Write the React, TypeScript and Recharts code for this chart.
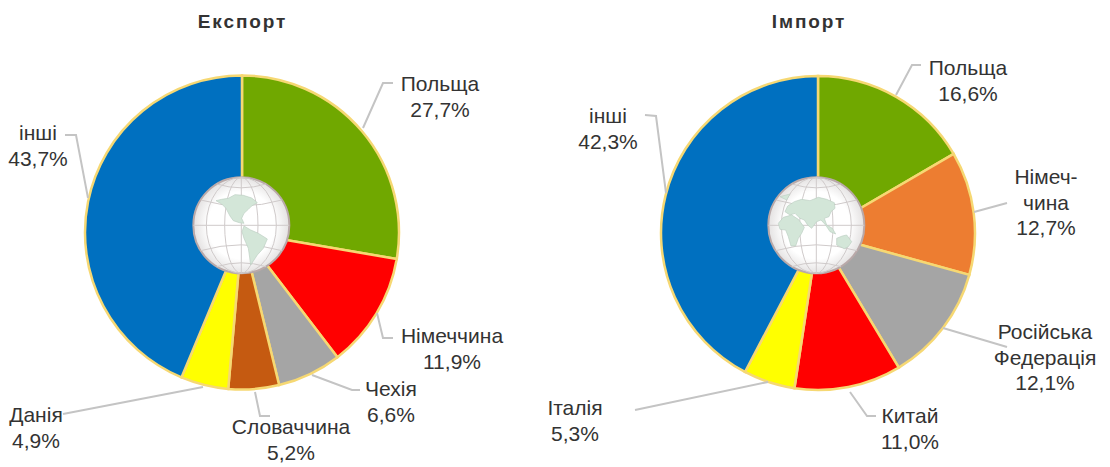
import React from 'react';
import { PieChart, Pie, Cell } from 'recharts';

const exportNames = ['Польща', 'Німеччина', 'Чехія', 'Словаччина', 'Данія', 'інші'];
const exportValues = [27.7, 11.9, 6.6, 5.2, 4.9, 43.7];
const exportColors = ['#70a800', '#ff0000', '#a5a5a5', '#c55a11', '#ffff00', '#0070c0'];

const importNames = ['Польща', 'Німеччина', 'Російська Федерація', 'Китай', 'Італія', 'інші'];
const importValues = [16.6, 12.7, 12.1, 11.0, 5.3, 42.3];
const importColors = ['#70a800', '#ed7d31', '#a5a5a5', '#ff0000', '#ffff00', '#0070c0'];

const exportLabelLines = [['Польща'], ['Німеччина'], ['Чехія'], ['Словаччина'], ['Данія'], ['інші']];
const importLabelLines = [['Польща'], ['Німеч-', 'чина'], ['Російська', 'Федерація'], ['Китай'], ['Італія'], ['інші']];

// label centre x, first baseline y, leader polyline
const exportLabelPos = [
  { x: 440, y: 91, line: '363,128 383,83 393,83' },
  { x: 452, y: 343, line: '377,313 383,338 393,338' },
  { x: 391, y: 396, line: '312,375 352,390 360,390' },
  { x: 291, y: 434, line: '255,392 260,416 270,416' },
  { x: 36, y: 422, line: '203,387 63,414' },
  { x: 38, y: 140, line: '88,198 76,135 65,135' },
];
const importLabelPos = [
  { x: 968, y: 75, line: '896,95 912,65 921,65' },
  { x: 1046, y: 184, line: '974,212 1007,203' },
  { x: 1045, y: 339, line: '943,328 1007,347' },
  { x: 910, y: 423, line: '850,392 867,416 876,416' },
  { x: 575, y: 415, line: '768,382 635,410' },
  { x: 608, y: 123, line: '666,193 656,116 645,115' },
];

const toRows = (names: string[], values: number[]) => names.map((name, i) => ({ name, value: values[i] }));
const percent = (v: number) => v.toFixed(1).replace('.', ',') + '%';

const FONT = '"Liberation Sans", Arial, sans-serif';
const EDGE = '#f6d873';

const makeLabel = (values: number[], lines: string[][], pos: typeof exportLabelPos) => (props: any) => {
  const i = props.index;
  const p = pos[i];
  const rows = [...lines[i], percent(values[i])];
  return (
    <g key={i}>
      <polyline points={p.line} fill="none" stroke="#c4c4c4" strokeWidth={2} />
      {rows.map((t, r) => (
        <text key={r} x={p.x} y={p.y + r * 25.7} textAnchor="middle" fontSize={21} fontFamily={FONT} fill="#333">
          {t}
        </text>
      ))}
    </g>
  );
};

const Globe = ({ ox, oy, lands }: { ox: number; oy: number; lands: string[] }) => (
  <g transform={`translate(${ox},${oy}) scale(0.3333)`}>
    <circle cx={184} cy={166} r={144} fill="url(#globeFill)" stroke="#b9a9a9" strokeWidth={6} />
    <g fill="none" stroke="#cfcaca" strokeWidth={3}>
      <ellipse cx={184} cy={166} rx={50} ry={144} />
      <ellipse cx={184} cy={166} rx={105} ry={144} />
      <line x1={184} y1={22} x2={184} y2={310} />
      <line x1={40} y1={166} x2={328} y2={166} />
      <path d="M62 90 Q184 125 306 90" />
      <path d="M62 242 Q184 207 306 242" />
      <path d="M110 42 Q184 65 258 42" />
      <path d="M110 290 Q184 267 258 290" />
    </g>
    {lands.map((d, i) => (
      <path key={i} d={d} fill="#d3e6d8" stroke="#bccfc2" strokeWidth={2} strokeLinejoin="round" />
    ))}
  </g>
);

const americas = [
  'M108 92 L125 88 L145 85 L165 74 L190 76 L215 84 L232 98 L215 108 L205 118 L192 130 L185 145 L192 160 L178 158 L160 152 L150 138 L138 115 L125 102 Z',
  'M192 168 L212 180 L235 190 L262 207 L250 235 L232 255 L222 270 L212 285 L208 255 L205 235 L192 205 L186 185 Z',
];
const eastern = [
  'M98 108 L118 95 L140 88 L165 92 L190 82 L215 88 L238 98 L240 115 L228 125 L222 140 L208 145 L215 165 L232 175 L242 192 L225 185 L212 165 L198 150 L185 155 L170 175 L158 165 L148 150 L135 145 L120 130 L105 135 L90 125 Z',
  'M70 160 L85 142 L110 135 L130 148 L148 172 L140 190 L130 205 L122 228 L108 228 L100 200 L92 180 L75 178 Z',
  'M245 205 L262 198 L275 195 L290 215 L280 230 L268 236 L245 225 Z',
  'M75 80 L105 72 L95 90 Z',
];

export default function App() {
  return (
    <div style={{ position: 'absolute', left: 0, top: 0, width: 1110, height: 467, background: '#fff', overflow: 'hidden' }}>
      <div style={{ position: 'absolute', left: 0, top: 0 }}>
        <PieChart width={1110} height={467} margin={{ top: 0, right: 0, bottom: 0, left: 0 }}>
          <Pie
            data={toRows(exportNames, exportValues)}
            dataKey="value"
            nameKey="name"
            cx={242}
            cy={232.5}
            outerRadius={157}
            innerRadius={0}
            startAngle={90}
            endAngle={-270}
            stroke={EDGE}
            strokeWidth={2.5}
            isAnimationActive={false}
            label={makeLabel(exportValues, exportLabelLines, exportLabelPos)}
            labelLine={false}
          >
            {exportColors.map((c) => <Cell key={c} fill={c} />)}
          </Pie>
          <Pie
            data={toRows(importNames, importValues)}
            dataKey="value"
            nameKey="name"
            cx={818}
            cy={233}
            outerRadius={157}
            innerRadius={0}
            startAngle={90}
            endAngle={-270}
            stroke={EDGE}
            strokeWidth={2.5}
            isAnimationActive={false}
            label={makeLabel(importValues, importLabelLines, importLabelPos)}
            labelLine={false}
          >
            {importColors.map((c) => <Cell key={c} fill={c} />)}
          </Pie>
        </PieChart>
      </div>
      <svg width={1110} height={467} style={{ position: 'absolute', left: 0, top: 0, pointerEvents: 'none' }}>
        <defs>
          <radialGradient id="globeFill" cx="50%" cy="50%" r="50%">
            <stop offset="70%" stopColor="#ffffff" />
            <stop offset="100%" stopColor="#e4e2e2" />
          </radialGradient>
        </defs>
        <Globe ox={180} oy={170} lands={americas} />
        <Globe ox={755} oy={170} lands={eastern} />
        <text x={242.5} y={28} textAnchor="middle" fontSize={19} fontWeight={700} letterSpacing={1.9} fontFamily={FONT} fill="#333">Експорт</text>
        <text x={809} y={28} textAnchor="middle" fontSize={19} fontWeight={700} letterSpacing={1.9} fontFamily={FONT} fill="#333">Імпорт</text>
      </svg>
    </div>
  );
}
